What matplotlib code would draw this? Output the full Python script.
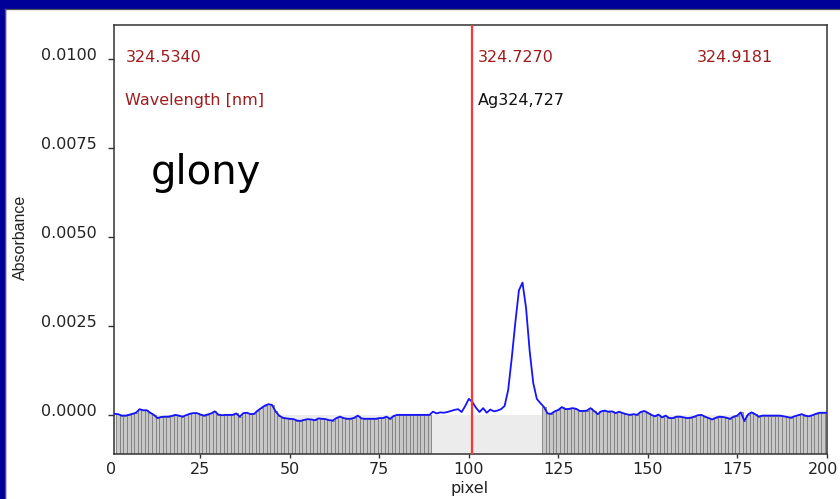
import matplotlib
matplotlib.use("Agg")
import matplotlib.pyplot as plt
import matplotlib.transforms as mtransforms
from matplotlib.lines import Line2D
from matplotlib.patches import Rectangle
import numpy as np

# ---- spectrum data -------------------------------------------------------
pixels = np.arange(1, 201)
absorbance = [
    0.00003, 0.00002, -0.00002, -0.00002, 0.0, 0.00003, 0.00006, 0.00016, 0.00013, 0.00013,
    0.00006, 0.0, -0.00009, -0.00006, -0.00005, -0.00005, -0.00003, 0.0, -0.00002, -0.00005,
    -0.00001, 0.00003, 0.00005, 0.00005, 0.00001, -0.00002, 0.00001, 0.00004, 0.00010, 0.00001,
    -0.00001, 0.0, 0.0, 0.0, 0.00004, -0.00005, 0.00005, 0.00006, 0.00002, 0.00003,
    0.00012, 0.00019, 0.00026, 0.00030, 0.00028, 0.00010, -0.00002, -0.00008, -0.00010, -0.00011,
    -0.00012, -0.00016, -0.00017, -0.00014, -0.00012, -0.00013, -0.00015, -0.00010, -0.00011, -0.00012,
    -0.00015, -0.00016, -0.00009, -0.00005, -0.00009, -0.00011, -0.00011, -0.00008, -0.00002, -0.00010,
    -0.00011, -0.00011, -0.00011, -0.00011, -0.00009, -0.00009, -0.00005, -0.00011, -0.00003, 0.0,
    0.0, 0.0, 0.0, 0.0, 0.0, 0.0, 0.0, 0.0, 0.0, 0.00009,
    0.00004, 0.00007, 0.00006, 0.00008, 0.00011, 0.00014, 0.00016, 0.00008, 0.00025, 0.00045,
    0.00036, 0.00020, 0.00008, 0.00019, 0.00006, 0.00015, 0.00010, 0.00012, 0.00016, 0.00025,
    0.0007, 0.0016, 0.0026, 0.0035, 0.00372, 0.0030, 0.0018, 0.0009, 0.00045, 0.00033,
    0.00022, 0.00004, 0.00003, 0.00010, 0.00014, 0.00022, 0.00016, 0.00017, 0.00019, 0.00017,
    0.00011, 0.00011, 0.00012, 0.00019, 0.00011, 0.00002, 0.00010, 0.00012, 0.00009, 0.00010,
    0.00005, 0.00009, 0.00005, 0.00002, 0.0, 0.00002, 0.0, 0.00008, 0.00011, 0.00006,
    0.0, -0.00004, 0.00001, -0.00007, -0.00002, -0.00009, -0.00009, -0.00005, -0.00005, -0.00007,
    -0.00009, -0.00008, -0.00005, -0.00001, 0.0, -0.00005, -0.00009, -0.00013, -0.00008, -0.00005,
    -0.00006, -0.00008, -0.00011, -0.00005, -0.00002, 0.00007, -0.00017, 0.00001, 0.00007, 0.00002,
    -0.00005, -0.00002, -0.00002, -0.00002, -0.00002, -0.00002, -0.00002, -0.00004, -0.00006, -0.00008,
    -0.00004, -0.00001, 0.00002, -0.00002, -0.00004, -0.00001, 0.00003, 0.00006, 0.00006, 0.00006,
]

wl_first, wl_line, wl_last = 324.5340, 324.7270, 324.9181
line_label = "Ag324,727"
sample_label = "glony"
baseline_windows = [(2, 89), (121, 199)]
yticks = [0.0, 0.0025, 0.0050, 0.0075, 0.0100]
xticks = [25, 50, 75, 100, 125, 150, 175, 200]

# analytical line position on the pixel axis (linear dispersion)
line_pixel = pixels[0] + (wl_line - wl_first) / (wl_last - wl_first) * (pixels[-1] - pixels[0])

# ---- figure --------------------------------------------------------------
plt.rcParams['font.family'] = ['DejaVu Sans']
W, H = 840, 499
fig = plt.figure(figsize=(W / 100, H / 100), dpi=100, facecolor='white')

frame_blue = '#000098'
fig.patches.append(Rectangle((0, 1 - 8 / H), 1, 8 / H, transform=fig.transFigure,
                             color=frame_blue, zorder=0))
fig.patches.append(Rectangle((0, 0), 4.5 / W, 1, transform=fig.transFigure,
                             color=frame_blue, zorder=0))
fig.lines.append(Line2D([4.5 / W, 1], [1 - 8.6 / H] * 2, transform=fig.transFigure,
                        color='#555555', lw=0.9))
fig.lines.append(Line2D([5.1 / W] * 2, [0, 1 - 8.6 / H], transform=fig.transFigure,
                        color='#555555', lw=0.9))

ax = fig.add_axes([114.5 / W, (H - 454) / H, (826.7 - 114.5) / W, (454 - 25) / H])
ymin, ymax = -0.0011, 0.01096
ax.set_xlim(1, 200)
ax.set_ylim(ymin, ymax)

vals = np.array(absorbance)

# light band below zero
ax.axhspan(ymin, 0, color='#ececec', zorder=0, lw=0)

# baseline pixels drawn as bars
mask = np.zeros_like(pixels, dtype=bool)
for lo, hi in baseline_windows:
    mask |= (pixels >= lo) & (pixels <= hi)
ax.bar(pixels[mask], vals[mask] - ymin, bottom=ymin, width=1.0,
       facecolor='#c8c8c8', edgecolor='#7d7d7d', linewidth=0.6, zorder=1)

ax.plot(pixels, vals, color='#1414ff', lw=1.3, zorder=3)
ax.axvline(line_pixel, color='#ff3535', lw=1.6, zorder=4)

# ---- axes styling --------------------------------------------------------
for sp in ax.spines.values():
    sp.set_color('#333333')
    sp.set_linewidth(1.1)

ax.set_xticks(xticks)
ax.set_xticklabels([str(t) for t in xticks])
ax.set_yticks(yticks)
ax.set_yticklabels([f"{v:.4f}" for v in yticks])
ax.tick_params(axis='both', direction='out', colors='#333333', labelcolor='#222222',
               labelsize=11.5, width=1.0)
ax.tick_params(axis='x', length=3, pad=3)
ax.tick_params(axis='y', length=4.5, pad=8)

shift_up = mtransforms.ScaledTranslation(0, 0.05, fig.dpi_scale_trans)
for lbl in ax.get_yticklabels():
    lbl.set_transform(lbl.get_transform() + shift_up)

# keep the last pixel label inside the canvas
last_lbl = ax.get_xticklabels()[-1]
last_lbl.set_transform(last_lbl.get_transform()
                       + mtransforms.ScaledTranslation(-0.035, 0, fig.dpi_scale_trans))

# "0" at the left end of the pixel scale
ax.text(0, -8 / 429, "0", transform=ax.get_xaxis_transform(), ha='center', va='top',
        fontsize=11.5, color='#222222', clip_on=False)

ax.set_xlabel("pixel", fontsize=11.5, color='#222222', va='center')
ax.xaxis.set_label_coords(0.499, -(489 - 454) / 429)
ax.set_ylabel("Absorbance", fontsize=11.5, color='#222222', va='center',
              family=['Liberation Sans'])
ax.yaxis.set_label_coords((20 - 114.5) / 712.2, 0.5 + (239.5 - 237) / 429)

# ---- annotations ---------------------------------------------------------
wl_color = '#a01c1c'
ax.text(4.2, 0.01006, f"{wl_first:.4f}", color=wl_color, fontsize=11.5, va='center', ha='left')
ax.text(3.9, 0.00885, "Wavelength [nm]", color=wl_color, fontsize=11.5, va='center', ha='left')
ax.text(102.4, 0.01006, f"{wl_line:.4f}", color=wl_color, fontsize=11.5, va='center', ha='left')
ax.text(163.8, 0.01006, f"{wl_last:.4f}", color=wl_color, fontsize=11.5, va='center', ha='left')
ax.text(102.4, 0.00885, line_label, color='#111111', fontsize=11.5, va='center', ha='left')
ax.text(11.0, 0.00649, sample_label, color='black', fontsize=29, va='baseline', ha='left')

fig.savefig("out.png", dpi=100, facecolor=fig.get_facecolor())
